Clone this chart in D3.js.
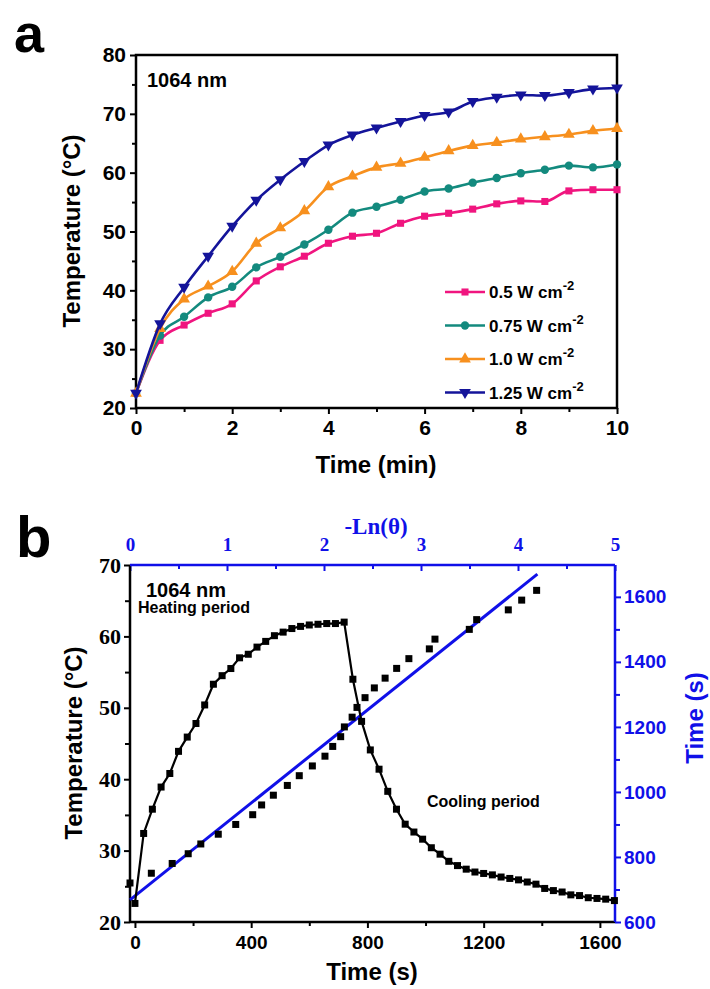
<!DOCTYPE html>
<html>
<head>
<meta charset="utf-8">
<script src="https://cdn.jsdelivr.net/npm/d3@7"></script>
<style>
body { margin: 0; background: #fff; }
</style>
</head>
<body>
<div id="chart"></div>
<script>
// panel a
var timeA = [0, 0.5, 1, 1.5, 2, 2.5, 3, 3.5, 4, 4.5, 5, 5.5, 6, 6.5, 7, 7.5, 8, 8.5, 9, 9.5, 10];
var temp05 = [22.5, 31.5, 34.1, 36.1, 37.7, 41.6, 44.0, 45.8, 48.0, 49.2, 49.7, 51.4, 52.6, 53.1, 53.8, 54.7, 55.2, 55.1, 56.9, 57.1, 57.1];
var temp075 = [22.5, 32.3, 35.5, 38.8, 40.6, 43.9, 45.7, 47.8, 50.3, 53.2, 54.2, 55.4, 56.8, 57.3, 58.3, 59.1, 59.9, 60.5, 61.2, 60.9, 61.4];
var temp10 = [22.5, 33.5, 38.5, 40.7, 43.2, 48.0, 50.6, 53.5, 57.6, 59.4, 60.9, 61.6, 62.6, 63.7, 64.6, 65.1, 65.7, 66.1, 66.5, 67.1, 67.5];
var temp125 = [22.5, 34.3, 40.5, 45.8, 50.9, 55.3, 58.8, 61.9, 64.7, 66.4, 67.6, 68.7, 69.7, 70.3, 72.1, 72.8, 73.2, 73.1, 73.6, 74.2, 74.4];
var powerLabels = ['0.5 W cm', '0.75 W cm', '1.0 W cm', '1.25 W cm'];
var xTicksA = [0, 2, 4, 6, 8, 10];
var yTicksA = [20, 30, 40, 50, 60, 70, 80];

// panel b
var timeB = [0, 30, 60, 90, 120, 150, 180, 210, 240, 270, 300, 330, 360, 390, 420, 450, 480, 510, 540, 570, 600, 630, 660, 690, 720,
    750, 780, 810, 840, 870, 900, 930, 960, 990, 1020, 1050, 1080, 1110, 1140, 1170, 1200, 1230, 1260, 1290, 1320, 1350,
    1380, 1410, 1440, 1470, 1500, 1530, 1560, 1590, 1620, 1650];
var tempB = [22.6, 32.4, 35.8, 38.9, 40.8, 43.9, 45.9, 47.8, 50.4, 53.3, 54.5, 55.5, 57.0, 57.5, 58.5, 59.3, 60.1, 60.6, 61.1, 61.4, 61.6, 61.7, 61.8, 61.8, 62.0,
    54.0, 48.1, 44.1, 41.4, 38.3, 35.8, 33.7, 32.6, 31.6, 30.4, 29.5, 28.5, 27.9, 27.4, 27.0, 26.8, 26.6, 26.3, 26.1, 25.9, 25.6,
    25.3, 24.7, 24.4, 24.2, 23.8, 23.7, 23.4, 23.3, 23.2, 23.0];
var coolTime = [720, 750, 780, 810, 840, 870, 900, 930, 960, 990, 1020, 1050, 1080, 1110, 1140, 1170, 1200, 1230, 1260, 1290,
    1320, 1350, 1380, 1410, 1440, 1470, 1500, 1530, 1560, 1590, 1620];
var lnTheta = [0, 0.22, 0.435, 0.60, 0.73, 0.91, 1.09, 1.265, 1.357, 1.478, 1.622, 1.745, 1.88, 2.01, 2.09, 2.172, 2.21, 2.29, 2.34, 2.423,
    2.519, 2.63, 2.749, 2.875, 3.086, 3.144, 3.498, 3.574, 3.90, 4.038, 4.192];
var fitLn = [0, 4.2];
var fitTime = [668, 1670];
var xTicksB = [0, 400, 800, 1200, 1600];
var yTicksB = [20, 30, 40, 50, 60, 70];
var topTicks = [0, 1, 2, 3, 4, 5];
var rightTicks = [600, 800, 1000, 1200, 1400, 1600];

var sans = 'Liberation Sans, Arial, sans-serif';
var serif = 'Liberation Serif, Times New Roman, serif';
var blue = '#1010e8';

var svg = d3.select('#chart').append('svg').attr('width', 710).attr('height', 989);

function styleAxis(g, color, font, size) {
    g.select('.domain').remove();
    g.selectAll('line').attr('stroke', color).attr('stroke-width', 2);
    g.selectAll('text').attr('fill', color).attr('font-family', font).attr('font-size', size).attr('font-weight', 'bold');
}

// ---------- panel a ----------
var xA = d3.scaleLinear().domain([0, 10]).range([136, 617]);
var yA = d3.scaleLinear().domain([20, 80]).range([408, 55]);

svg.append('text').attr('x', 14).attr('y', 52).text('a')
    .attr('font-family', sans).attr('font-weight', 'bold').attr('font-size', 54);

var gx = svg.append('g').attr('transform', 'translate(0,408)')
    .call(d3.axisBottom(xA).tickValues(xTicksA).tickSize(6).tickPadding(6).tickFormat(d3.format('d')));
styleAxis(gx, '#000', sans, 21);
var gxm = svg.append('g').attr('transform', 'translate(0,408)')
    .call(d3.axisBottom(xA).tickValues([1, 3, 5, 7, 9]).tickSize(4).tickFormat(''));
styleAxis(gxm, '#000', sans, 21);

var gy = svg.append('g').attr('transform', 'translate(136,0)')
    .call(d3.axisLeft(yA).tickValues(yTicksA).tickSize(6).tickPadding(4));
styleAxis(gy, '#000', sans, 21);
var gym = svg.append('g').attr('transform', 'translate(136,0)')
    .call(d3.axisLeft(yA).tickValues([25, 35, 45, 55, 65, 75]).tickSize(4).tickFormat(''));
styleAxis(gym, '#000', sans, 21);

svg.append('rect').attr('x', 136).attr('y', 55).attr('width', 481).attr('height', 353)
    .attr('fill', 'none').attr('stroke', '#000').attr('stroke-width', 2.5);

svg.append('text').attr('x', 376).attr('y', 473).attr('text-anchor', 'middle').text('Time (min)')
    .attr('font-family', sans).attr('font-weight', 'bold').attr('font-size', 24);
svg.append('text').attr('transform', 'translate(80,231) rotate(-90)').attr('text-anchor', 'middle')
    .text('Temperature (\u00B0C)')
    .attr('font-family', sans).attr('font-weight', 'bold').attr('font-size', 24);
svg.append('text').attr('x', 147).attr('y', 87).text('1064 nm')
    .attr('font-family', sans).attr('font-weight', 'bold').attr('font-size', 20);

var downTriangle = {
    draw: function (ctx, size) {
        var s = Math.sqrt(size * 4 / Math.sqrt(3)) / 2;
        ctx.moveTo(-s, -s * 0.6);
        ctx.lineTo(s, -s * 0.6);
        ctx.lineTo(0, s * 1.1);
        ctx.closePath();
    }
};
var seriesA = [
    { values: temp05, color: '#f0157f', symbol: d3.symbolSquare, size: 50 },
    { values: temp075, color: '#138a7e', symbol: d3.symbolCircle, size: 55 },
    { values: temp10, color: '#f7901e', symbol: d3.symbolTriangle, size: 60 },
    { values: temp125, color: '#14149a', symbol: downTriangle, size: 60 }
];

var lineA = d3.line().curve(d3.curveMonotoneX)
    .x(function (d, i) { return xA(timeA[i]); })
    .y(function (d) { return yA(d); });

seriesA.forEach(function (s, k) {
    svg.append('path').datum(s.values).attr('d', lineA)
        .attr('fill', 'none').attr('stroke', s.color).attr('stroke-width', 2.6);
    svg.append('g').selectAll('path').data(s.values).enter().append('path')
        .attr('d', d3.symbol().type(s.symbol).size(s.size))
        .attr('transform', function (d, i) { return 'translate(' + xA(timeA[i]) + ',' + yA(d) + ')'; })
        .attr('fill', s.color);

    // legend
    var ly = 292 + k * 33.5;
    svg.append('line').attr('x1', 445).attr('x2', 485).attr('y1', ly).attr('y2', ly)
        .attr('stroke', s.color).attr('stroke-width', 2.6);
    svg.append('path').attr('d', d3.symbol().type(s.symbol).size(s.size))
        .attr('transform', 'translate(465,' + ly + ')').attr('fill', s.color);
    var t = svg.append('text').attr('x', 489).attr('y', ly + 6)
        .attr('font-family', sans).attr('font-weight', 'bold').attr('font-size', 17);
    t.append('tspan').text(powerLabels[k]);
    t.append('tspan').attr('dy', -8).attr('font-size', 13).text('-2');
});

// ---------- panel b ----------
var xB = d3.scaleLinear().domain([-17, 1652]).range([130, 615]);
var yB = d3.scaleLinear().domain([20, 70]).range([922, 565]);
var xTop = d3.scaleLinear().domain([0, 5]).range([130, 615]);
var yRight = d3.scaleLinear().domain([600, 1698]).range([922, 565]);

svg.append('text').attr('x', 16).attr('y', 557).text('b')
    .attr('font-family', sans).attr('font-weight', 'bold').attr('font-size', 58);

var bx = svg.append('g').attr('transform', 'translate(0,922)')
    .call(d3.axisBottom(xB).tickValues(xTicksB).tickSize(6).tickPadding(8).tickFormat(d3.format('d')));
styleAxis(bx, '#000', sans, 19);
var bxm = svg.append('g').attr('transform', 'translate(0,922)')
    .call(d3.axisBottom(xB).tickValues([200, 600, 1000, 1400]).tickSize(4).tickFormat(''));
styleAxis(bxm, '#000', sans, 19);

var by = svg.append('g').attr('transform', 'translate(130,0)')
    .call(d3.axisLeft(yB).tickValues(yTicksB).tickSize(6).tickPadding(3));
styleAxis(by, '#000', serif, 22);
var bym = svg.append('g').attr('transform', 'translate(130,0)')
    .call(d3.axisLeft(yB).tickValues([25, 35, 45, 55, 65]).tickSize(5).tickFormat(''));
styleAxis(bym, '#000', serif, 22);

var bt = svg.append('g').attr('transform', 'translate(0,565)')
    .call(d3.axisTop(xTop).tickValues(topTicks).tickSize(-6).tickPadding(14).tickFormat(d3.format('d')));
styleAxis(bt, blue, serif, 19);
var btm = svg.append('g').attr('transform', 'translate(0,565)')
    .call(d3.axisTop(xTop).tickValues([0.5, 1.5, 2.5, 3.5, 4.5]).tickSize(-4).tickFormat(''));
styleAxis(btm, blue, serif, 19);

var br = svg.append('g').attr('transform', 'translate(615,0)')
    .call(d3.axisRight(yRight).tickValues(rightTicks).tickSize(6).tickPadding(3).tickFormat(d3.format('d')));
styleAxis(br, blue, sans, 19);
var brm = svg.append('g').attr('transform', 'translate(615,0)')
    .call(d3.axisRight(yRight).tickValues([700, 900, 1100, 1300, 1500]).tickSize(5).tickFormat(''));
styleAxis(brm, blue, sans, 19);

svg.append('line').attr('x1', 130).attr('x2', 615).attr('y1', 922).attr('y2', 922).attr('stroke', '#000').attr('stroke-width', 2.5);
svg.append('line').attr('x1', 130).attr('x2', 130).attr('y1', 565).attr('y2', 922).attr('stroke', '#000').attr('stroke-width', 2.5);
svg.append('line').attr('x1', 130).attr('x2', 615).attr('y1', 565).attr('y2', 565).attr('stroke', blue).attr('stroke-width', 2.5);
svg.append('line').attr('x1', 615).attr('x2', 615).attr('y1', 565).attr('y2', 922).attr('stroke', blue).attr('stroke-width', 2.5);

svg.append('text').attr('x', 372).attr('y', 980).attr('text-anchor', 'middle').text('Time (s)')
    .attr('font-family', sans).attr('font-weight', 'bold').attr('font-size', 24);
svg.append('text').attr('transform', 'translate(82,743) rotate(-90)').attr('text-anchor', 'middle')
    .text('Temperature (\u00B0C)')
    .attr('font-family', sans).attr('font-weight', 'bold').attr('font-size', 24);
svg.append('text').attr('transform', 'translate(703,718) rotate(-90)').attr('text-anchor', 'middle')
    .text('Time (s)').attr('fill', blue)
    .attr('font-family', sans).attr('font-weight', 'bold').attr('font-size', 24);
svg.append('text').attr('x', 376).attr('y', 534).attr('text-anchor', 'middle').text('-Ln(\u03B8)').attr('fill', blue)
    .attr('font-family', serif).attr('font-weight', 'bold').attr('font-size', 23);

svg.append('text').attr('x', 146).attr('y', 597).text('1064 nm')
    .attr('font-family', sans).attr('font-weight', 'bold').attr('font-size', 20);
svg.append('text').attr('x', 138).attr('y', 613).text('Heating period')
    .attr('font-family', sans).attr('font-weight', 'bold').attr('font-size', 16);
svg.append('text').attr('x', 427).attr('y', 807).text('Cooling period')
    .attr('font-family', sans).attr('font-weight', 'bold').attr('font-size', 16);

// fit line
svg.append('line')
    .attr('x1', xTop(fitLn[0])).attr('y1', yRight(fitTime[0]))
    .attr('x2', xTop(fitLn[1])).attr('y2', yRight(fitTime[1]))
    .attr('stroke', blue).attr('stroke-width', 3);

// heating / cooling curve
var lineB = d3.line()
    .x(function (d, i) { return xB(timeB[i]); })
    .y(function (d) { return yB(d); });
svg.append('path').datum(tempB).attr('d', lineB)
    .attr('fill', 'none').attr('stroke', '#000').attr('stroke-width', 2.2);
svg.append('g').selectAll('rect').data(tempB).enter().append('rect')
    .attr('x', function (d, i) { return xB(timeB[i]) - 3.5; })
    .attr('y', function (d) { return yB(d) - 3.5; })
    .attr('width', 7).attr('height', 7).attr('fill', '#000');

// -Ln(theta) vs time
svg.append('g').selectAll('rect').data(lnTheta).enter().append('rect')
    .attr('x', function (d) { return xTop(d) - 3.5; })
    .attr('y', function (d, i) { return yRight(coolTime[i]) - 3.5; })
    .attr('width', 7).attr('height', 7).attr('fill', '#000');
</script>
</body>
</html>
